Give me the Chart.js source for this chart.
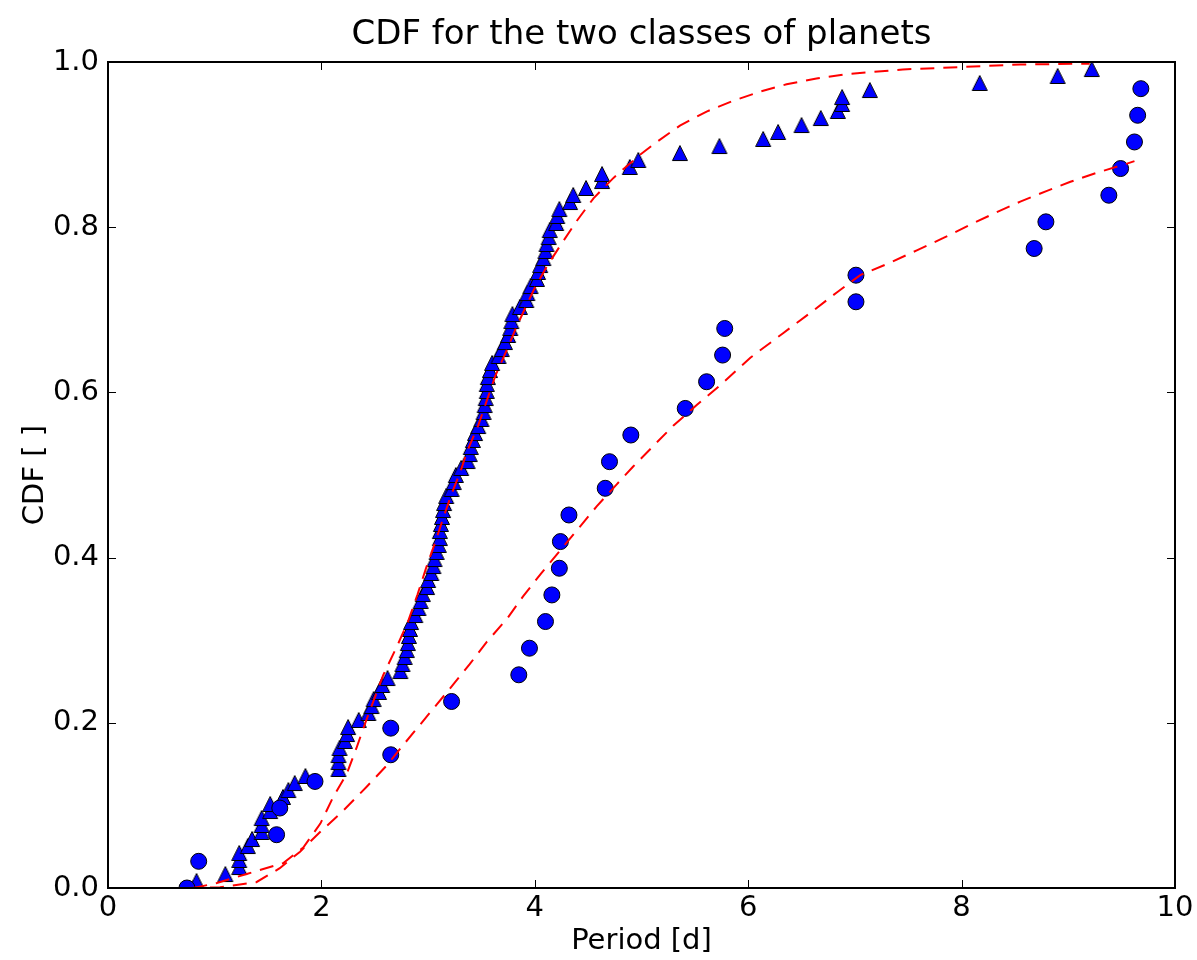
<!DOCTYPE html>
<html><head><meta charset="utf-8">
<script src="https://cdn.jsdelivr.net/npm/chart.js@4.4.1/dist/chart.umd.min.js"></script>
<style>html,body{margin:0;padding:0;background:#fff;} canvas{display:block;}</style>
</head><body>
<canvas id="c" width="1197" height="960"></canvas>
<script>
const chartTitle = 'CDF for the two classes of planets';
const xAxisLabel = 'Period [d]';
const yAxisLabel = 'CDF [ ]';
const xTicks = [0, 2, 4, 6, 8, 10];
const xTickLabels = ['0', '2', '4', '6', '8', '10'];
const yTicks = [0.0, 0.2, 0.4, 0.6, 0.8, 1.0];
const yTickLabels = ['0.0', '0.2', '0.4', '0.6', '0.8', '1.0'];

// class 1 (triangles): sorted periods and CDF values
const triPeriods = [0.80,0.83,1.10,1.23,1.23,1.23,1.31,1.35,1.44,1.44,
  1.44,1.52,1.52,1.64,1.69,1.75,1.85,2.16,2.16,2.16,
  2.17,2.22,2.24,2.25,2.35,2.44,2.47,2.49,2.54,2.57,
  2.62,2.74,2.76,2.78,2.80,2.81,2.82,2.83,2.84,2.88,
  2.91,2.93,2.95,2.99,3.00,3.03,3.05,3.06,3.08,3.10,
  3.11,3.11,3.12,3.13,3.14,3.15,3.17,3.22,3.24,3.26,
  3.31,3.37,3.39,3.40,3.42,3.44,3.47,3.50,3.52,3.53,
  3.54,3.55,3.55,3.56,3.58,3.60,3.66,3.69,3.72,3.75,
  3.77,3.78,3.79,3.86,3.92,3.93,3.96,4.02,4.03,4.05,
  4.08,4.10,4.11,4.13,4.14,4.20,4.21,4.23,4.33,4.36,
  4.48,4.63,4.63,4.89,4.97,5.36,5.73,6.14,6.28,6.50,
  6.68,6.84,6.88,6.88,7.14,8.17,8.90,9.22];
const triCdf = [0.0000,0.0085,0.0169,0.0254,0.0339,0.0424,0.0508,0.0593,0.0678,0.0763,
  0.0847,0.0932,0.1017,0.1102,0.1186,0.1271,0.1356,0.1441,0.1525,0.1610,
  0.1695,0.1780,0.1864,0.1949,0.2034,0.2119,0.2203,0.2288,0.2373,0.2458,
  0.2542,0.2627,0.2712,0.2797,0.2881,0.2966,0.3051,0.3136,0.3220,0.3305,
  0.3390,0.3475,0.3559,0.3644,0.3729,0.3814,0.3898,0.3983,0.4068,0.4153,
  0.4237,0.4322,0.4407,0.4492,0.4576,0.4661,0.4746,0.4831,0.4915,0.5000,
  0.5085,0.5169,0.5254,0.5339,0.5424,0.5508,0.5593,0.5678,0.5763,0.5847,
  0.5932,0.6017,0.6102,0.6186,0.6271,0.6356,0.6441,0.6525,0.6610,0.6695,
  0.6780,0.6864,0.6949,0.7034,0.7119,0.7203,0.7288,0.7373,0.7458,0.7542,
  0.7627,0.7712,0.7797,0.7881,0.7966,0.8051,0.8136,0.8220,0.8305,0.8390,
  0.8475,0.8559,0.8644,0.8729,0.8814,0.8898,0.8983,0.9068,0.9153,0.9237,
  0.9322,0.9407,0.9492,0.9576,0.9661,0.9746,0.9831,0.9915];

// class 2 (circles)
const circPeriods = [0.74,0.85,1.58,1.61,1.94,2.65,2.65,3.22,3.85,3.95,
  4.10,4.16,4.23,4.24,4.32,4.66,4.70,4.90,5.41,5.61,
  5.76,5.78,7.01,7.01,8.68,8.79,9.38,9.49,9.62,9.65,9.68];
const circCdf = [0.0000,0.0323,0.0645,0.0968,0.1290,0.1613,0.1935,0.2258,0.2581,0.2903,
  0.3226,0.3548,0.3871,0.4194,0.4516,0.4839,0.5161,0.5484,0.5806,0.6129,
  0.6452,0.6774,0.7097,0.7419,0.7742,0.8065,0.8387,0.8710,0.9032,0.9355,0.9677];

// model CDF curves (red dashed)
const triModelX = [0.80,1.02,1.30,1.64,1.83,1.99,2.11,2.24,2.33,2.42,2.58,2.71,2.81,2.90,2.98,
  3.06,3.15,3.22,3.30,3.37,3.47,3.55,3.63,3.74,3.83,3.99,4.11,4.24,4.39,4.55,4.74,4.97,
  5.13,5.36,5.61,5.86,6.11,6.36,6.64,6.90,7.45,8.01,8.55,9.20];
const triModelY = [0.000,0.006,0.017,0.030,0.049,0.078,0.110,0.139,0.170,0.203,0.258,0.293,0.322,0.355,0.387,
  0.416,0.451,0.477,0.503,0.530,0.560,0.590,0.620,0.652,0.680,0.724,0.752,0.778,0.807,0.835,0.860,0.886,
  0.902,0.923,0.940,0.953,0.964,0.973,0.980,0.985,0.991,0.994,0.997,0.998];
const circModelX = [0.74,1.05,1.39,1.61,1.80,1.99,2.20,2.42,2.61,2.76,2.92,3.08,3.24,3.39,3.55,3.74,
  3.89,4.06,4.24,4.42,4.58,4.77,4.92,5.11,5.30,5.52,5.74,6.02,6.33,6.61,6.83,7.05,7.33,7.58,7.83,
  8.08,8.31,8.55,8.80,9.02,9.27,9.55,9.62];
const circModelY = [0.000,0.001,0.007,0.024,0.044,0.068,0.093,0.122,0.148,0.172,0.197,0.222,0.247,0.271,0.298,0.326,
  0.353,0.381,0.409,0.437,0.462,0.489,0.510,0.535,0.560,0.585,0.609,0.642,0.672,0.699,0.721,0.742,0.757,0.772,0.787,
  0.803,0.817,0.831,0.844,0.855,0.866,0.877,0.880];

const toPts = (xs, ys) => xs.map((x, i) => ({x: x, y: ys[i]}));

function makeTriangle() {
  const c = document.createElement('canvas');
  c.width = 18; c.height = 18;
  const g = c.getContext('2d');
  g.beginPath();
  g.moveTo(9, 1.5); g.lineTo(16.5, 16.5); g.lineTo(1.5, 16.5); g.closePath();
  g.fillStyle = '#0000ff'; g.fill();
  g.lineWidth = 1; g.strokeStyle = '#000'; g.stroke();
  return c;
}
const triImg = makeTriangle();

const FONT = '"DejaVu Sans", "Liberation Sans", sans-serif';

const framePlugin = {
  id: 'frame',
  afterDatasetsDraw(chart) {
    const {ctx, chartArea: a, scales: {x, y}} = chart;
    ctx.save();
    ctx.strokeStyle = '#000';
    ctx.lineWidth = 1;
    const L = 8;
    ctx.beginPath();
    xTicks.forEach(v => {
      const px = Math.round(x.getPixelForValue(v)) + 0.5;
      ctx.moveTo(px, a.bottom); ctx.lineTo(px, a.bottom - L);
      ctx.moveTo(px, a.top); ctx.lineTo(px, a.top + L);
    });
    yTicks.forEach(v => {
      const py = Math.round(y.getPixelForValue(v)) + 0.5;
      ctx.moveTo(a.left, py); ctx.lineTo(a.left + L, py);
      ctx.moveTo(a.right, py); ctx.lineTo(a.right - L, py);
    });
    ctx.stroke();
    ctx.lineWidth = 2;
    ctx.strokeRect(a.left, a.top, a.right - a.left, a.bottom - a.top);
    ctx.fillStyle = '#000';
    ctx.font = '34px ' + FONT;
    ctx.textAlign = 'center';
    ctx.textBaseline = 'alphabetic';
    ctx.fillText(chartTitle, (a.left + a.right) / 2, 44);
    ctx.restore();
  }
};

new Chart(document.getElementById('c'), {
  type: 'scatter',
  data: {
    datasets: [
      {
        type: 'line', data: toPts(triModelX, triModelY),
        borderColor: '#ff0000', borderWidth: 2, borderDash: [14, 9],
        pointRadius: 0, fill: false, tension: 0, order: 0, clip: 0
      },
      {
        type: 'line', data: toPts(circModelX, circModelY),
        borderColor: '#ff0000', borderWidth: 2, borderDash: [14, 9],
        pointRadius: 0, fill: false, tension: 0, order: 0, clip: 0
      },
      {
        data: toPts(circPeriods, circCdf),
        pointStyle: 'circle', pointRadius: 8, pointBackgroundColor: '#0000ff',
        pointBorderColor: '#000', pointBorderWidth: 1, order: 1, clip: 0
      },
      {
        data: toPts(triPeriods, triCdf),
        pointStyle: triImg, pointRadius: 8, order: 1, clip: 0
      }
    ]
  },
  options: {
    responsive: false,
    animation: false,
    events: [],
    layout: {padding: {top: 62, right: 22, left: 0, bottom: 0}},
    plugins: {legend: {display: false}, tooltip: {enabled: false}, title: {display: false}},
    scales: {
      x: {
        type: 'linear', min: 0, max: 10,
        afterBuildTicks: s => { s.ticks = xTicks.map(v => ({value: v})); },
        afterFit: s => { s.height = 72; },
        grid: {display: false, drawTicks: false},
        border: {display: false},
        ticks: {
          padding: 3, color: '#000', font: {family: FONT, size: 29},
          callback: (v, i) => xTickLabels[i]
        },
        title: {display: true, text: xAxisLabel, color: '#000', font: {family: FONT, size: 29}, padding: {top: 0, bottom: 1}}
      },
      y: {
        type: 'linear', min: 0, max: 1,
        afterBuildTicks: s => { s.ticks = yTicks.map(v => ({value: v})); },
        afterFit: s => { s.width = 108; },
        grid: {display: false, drawTicks: false},
        border: {display: false},
        ticks: {
          padding: 9, color: '#000', font: {family: FONT, size: 29},
          callback: (v, i) => yTickLabels[i]
        },
        title: {display: true, text: yAxisLabel, color: '#000', font: {family: FONT, size: 29}, padding: {top: 18, bottom: 0}}
      }
    }
  },
  plugins: [framePlugin]
});
</script>
</body></html>
